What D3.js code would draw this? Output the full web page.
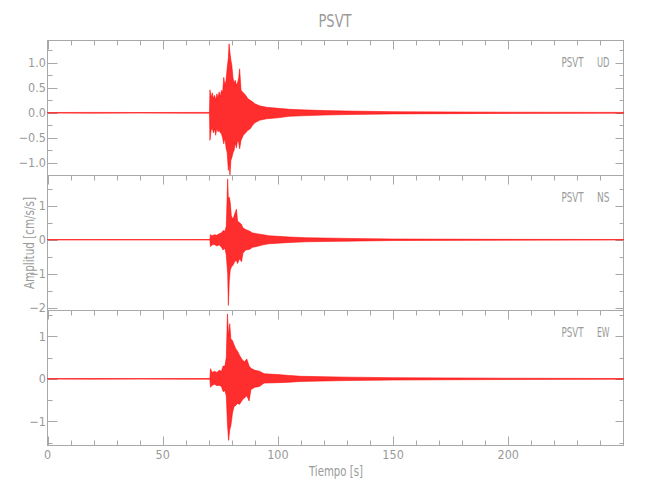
<!DOCTYPE html>
<html><head><meta charset="utf-8">
<script src="https://cdn.jsdelivr.net/npm/d3@7"></script>
<style>
body{margin:0;background:#fff}
text{font-family:"Liberation Sans Narrow","DejaVu Sans Condensed","Liberation Sans",sans-serif;fill:#9a9a9a}
</style>
</head><body><svg id="c" width="650" height="500"></svg>
<script>
// ---------------- data ----------------
const title = "PSVT";
const station = "PSVT";
const components = ["UD", "NS", "EW"];
const xLabel = "Tiempo [s]";
const yLabel = "Amplitud [cm/s/s]";
const xDomain = [0, 250];
const xMajorTicks = [0, 50, 100, 150, 200];
const xMinorTicks = [10,20,30,40,60,70,80,90,110,120,130,140,160,170,180,190,210,220,230,240];

const yDomainUD = [-1.254, 1.446];
const yDomainNS = [-2.08, 1.89];
const yDomainEW = [-1.57, 1.61];
const yMajorUD = [-1.0, -0.5, 0, 0.5, 1.0];
const yMinorUD = [-1.25, -0.75, -0.25, 0.25, 0.75, 1.25];
const yMajorNS = [-2, -1, 0, 1];
const yMinorNS = [-1.5, -0.5, 0.5, 1.5];
const yMajorEW = [-1, 0, 1];
const yMinorEW = [-1.5, -0.5, 0.5, 1.5];

// envelope of each trace: time [s], upper and lower extreme [cm/s/s]
const timeUD = [0,20,40,60,70.3,70.5,71,71.5,72,72.5,73,73.5,74,74.5,75,75.5,76,76.5,77,77.5,78,78.5,78.8,79.2,79.6,80,80.5,81,81.5,82,82.5,83,83.4,84,85,86,87,88,89,90,92,95,100,105,110,120,130,150,200,250];
const upUD   = [0.006,0.008,0.006,0.007,0.008,0.46,0.30,0.40,0.28,0.35,0.25,0.38,0.30,0.42,0.32,0.45,0.40,0.71,0.55,0.65,0.90,1.10,1.38,1.20,1.05,0.95,0.70,0.60,0.65,0.55,0.60,0.70,0.88,0.45,0.40,0.35,0.28,0.25,0.22,0.18,0.14,0.11,0.09,0.07,0.06,0.045,0.035,0.022,0.012,0.008];
const loUD   = [-0.006,-0.008,-0.006,-0.007,-0.008,-0.55,-0.35,-0.30,-0.40,-0.32,-0.45,-0.30,-0.38,-0.35,-0.40,-0.42,-0.50,-0.62,-0.50,-0.70,-0.80,-1.15,-1.00,-1.25,-0.95,-0.90,-0.80,-0.75,-0.60,-0.70,-0.55,-0.60,-0.72,-0.55,-0.45,-0.40,-0.35,-0.32,-0.25,-0.20,-0.15,-0.12,-0.10,-0.07,-0.06,-0.045,-0.035,-0.022,-0.012,-0.008];

const timeNS = [0,20,40,60,70.5,70.7,71.5,72.5,73.5,74.5,75.5,76.2,77,77.6,78.2,78.5,78.9,79.3,79.8,80.5,81.2,82,82.5,83.4,84.2,84.8,86,87.8,89,90.7,93.5,96,100,105,112,120,130,150,200,250];
const upNS   = [0.006,0.008,0.006,0.007,0.008,0.15,0.12,0.15,0.13,0.18,0.20,0.27,0.25,0.40,1.79,1.20,1.25,1.10,0.70,0.60,0.75,0.90,0.55,0.50,0.45,0.35,0.30,0.25,0.20,0.18,0.15,0.12,0.10,0.08,0.06,0.05,0.04,0.022,0.012,0.008];
const loNS   = [-0.006,-0.008,-0.006,-0.007,-0.008,-0.20,-0.15,-0.14,-0.18,-0.15,-0.22,-0.30,-0.25,-0.45,-1.00,-1.93,-1.20,-0.90,-0.80,-0.75,-0.65,-0.60,-0.70,-0.55,-0.65,-0.40,-0.30,-0.28,-0.22,-0.20,-0.15,-0.12,-0.10,-0.08,-0.06,-0.05,-0.04,-0.022,-0.012,-0.008];

const timeEW = [0,20,40,60,70.5,70.7,71.5,72.5,73.5,74.5,75.5,76.2,77,77.6,78.1,78.6,79.1,79.6,80.3,81,81.8,82.5,83.4,84.5,85.5,86.5,87.5,88.3,90,92,94,100,105,110,120,130,150,200,250];
const upEW   = [0.006,0.008,0.006,0.007,0.008,0.24,0.15,0.18,0.15,0.20,0.18,0.30,0.30,0.50,1.53,1.00,1.30,0.94,0.90,0.80,0.70,0.65,0.55,0.45,0.40,0.47,0.30,0.25,0.20,0.18,0.12,0.10,0.08,0.06,0.05,0.04,0.028,0.015,0.008];
const loEW   = [-0.006,-0.008,-0.006,-0.007,-0.008,-0.20,-0.15,-0.13,-0.16,-0.15,-0.18,-0.30,-0.28,-0.40,-1.06,-1.45,-1.20,-1.10,-0.80,-0.65,-0.62,-0.58,-0.60,-0.50,-0.45,-0.40,-0.52,-0.25,-0.20,-0.18,-0.10,-0.09,-0.08,-0.06,-0.05,-0.04,-0.028,-0.015,-0.008];

// ---------------- drawing ----------------
const svg = d3.select("#c");
const L = 47.5, R = 623.5;
const panelTops = [40.5, 175.5, 310.5];
const panelH = 135;
const axisColor = "#a8a8a8";
const x = d3.scaleLinear().domain(xDomain).range([L, R]);

const panels = [
  {comp: components[0], dom: yDomainUD, maj: yMajorUD, min: yMinorUD, fmt: d3.format(".1f"), t: timeUD, up: upUD, lo: loUD},
  {comp: components[1], dom: yDomainNS, maj: yMajorNS, min: yMinorNS, fmt: d3.format("d"), t: timeNS, up: upNS, lo: loNS},
  {comp: components[2], dom: yDomainEW, maj: yMajorEW, min: yMinorEW, fmt: d3.format("d"), t: timeEW, up: upEW, lo: loEW}
];

panels.forEach((p, i) => {
  const top = panelTops[i], bot = top + panelH;
  const y = d3.scaleLinear().domain(p.dom).range([bot, top]);
  const g = svg.append("g");
  g.append("rect").attr("x", L).attr("y", top).attr("width", R - L).attr("height", panelH)
    .attr("fill", "none").attr("stroke", axisColor).attr("stroke-width", 1);
  g.selectAll(".xmaj").data(xMajorTicks).join("line")
    .attr("x1", d => Math.round(x(d)) + 0.5).attr("x2", d => Math.round(x(d)) + 0.5)
    .attr("y1", top).attr("y2", top + 9).attr("stroke", axisColor);
  g.selectAll(".xmin").data(xMinorTicks).join("line")
    .attr("x1", d => Math.round(x(d)) + 0.5).attr("x2", d => Math.round(x(d)) + 0.5)
    .attr("y1", top).attr("y2", top + 5).attr("stroke", axisColor);
  if (i === panels.length - 1) {
    g.selectAll(".xmajb").data(xMajorTicks).join("line")
      .attr("x1", d => Math.round(x(d)) + 0.5).attr("x2", d => Math.round(x(d)) + 0.5)
      .attr("y1", bot).attr("y2", bot - 9).attr("stroke", axisColor);
    g.selectAll(".xminb").data(xMinorTicks).join("line")
      .attr("x1", d => Math.round(x(d)) + 0.5).attr("x2", d => Math.round(x(d)) + 0.5)
      .attr("y1", bot).attr("y2", bot - 5).attr("stroke", axisColor);
    g.selectAll(".xlab").data(xMajorTicks).join("text")
      .attr("x", d => x(d)).attr("y", bot + 13.5).attr("text-anchor", "middle")
      .attr("font-size", 12.5).text(d => d);
  }
  g.selectAll(".ymajL").data(p.maj).join("line")
    .attr("x1", L).attr("x2", L + 10)
    .attr("y1", d => Math.round(y(d)) + 0.5).attr("y2", d => Math.round(y(d)) + 0.5).attr("stroke", axisColor);
  g.selectAll(".yminL").data(p.min).join("line")
    .attr("x1", L).attr("x2", L + 5)
    .attr("y1", d => Math.round(y(d)) + 0.5).attr("y2", d => Math.round(y(d)) + 0.5).attr("stroke", axisColor);
  g.selectAll(".ymajR").data(p.maj).join("line")
    .attr("x1", R).attr("x2", R - 8)
    .attr("y1", d => Math.round(y(d)) + 0.5).attr("y2", d => Math.round(y(d)) + 0.5).attr("stroke", axisColor);
  g.selectAll(".yminR").data(p.min).join("line")
    .attr("x1", R).attr("x2", R - 4)
    .attr("y1", d => Math.round(y(d)) + 0.5).attr("y2", d => Math.round(y(d)) + 0.5).attr("stroke", axisColor);
  g.selectAll(".ylab").data(p.maj).join("text")
    .attr("x", L - 1.5).attr("y", d => y(d) + 4.5).attr("text-anchor", "end")
    .attr("font-size", 12.5).text(d => p.fmt(d).replace("-", "\u2212"));
  g.append("text").attr("x", 561.5).attr("y", top + 26).attr("font-size", 14)
    .attr("textLength", 22).attr("lengthAdjust", "spacingAndGlyphs").text(station);
  g.append("text").attr("x", 597).attr("y", top + 26).attr("font-size", 14)
    .attr("textLength", 12.5).attr("lengthAdjust", "spacingAndGlyphs").text(p.comp);
  const data = p.t.map((t, k) => ({t, hi: p.up[k], lo: p.lo[k]}));
  const area = d3.area().x(d => x(d.t)).y0(d => y(d.lo)).y1(d => y(d.hi));
  g.append("path").datum(data).attr("d", area)
    .attr("fill", "#ff0000").attr("fill-opacity", 0.82)
    .attr("stroke", "#ff0000").attr("stroke-width", 0.6).attr("stroke-opacity", 0.9);
});

svg.append("text").attr("x", 335).attr("y", 27).attr("text-anchor", "middle")
  .attr("font-size", 18).attr("textLength", 33).attr("lengthAdjust", "spacingAndGlyphs").text(title);
svg.append("text").attr("x", 336).attr("y", 476).attr("text-anchor", "middle")
  .attr("font-size", 14).attr("textLength", 54).attr("lengthAdjust", "spacingAndGlyphs").text(xLabel);
svg.append("text").attr("transform", "translate(34,243) rotate(-90)").attr("text-anchor", "middle")
  .attr("font-size", 14).attr("textLength", 92).attr("lengthAdjust", "spacingAndGlyphs").text(yLabel);
</script></body></html>
